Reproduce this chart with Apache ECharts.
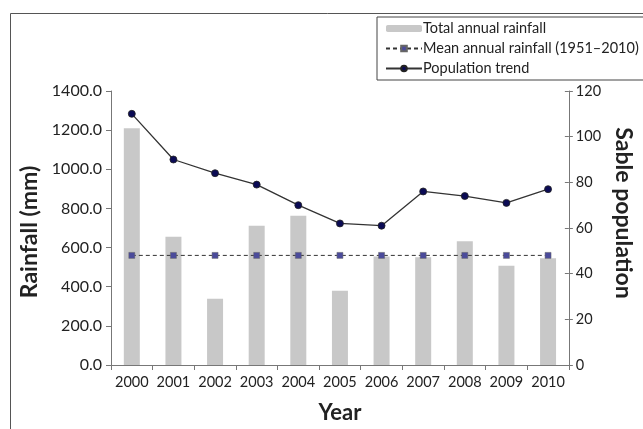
<!DOCTYPE html>
<html>
<head>
<meta charset="utf-8">
<script src="https://cdn.jsdelivr.net/npm/echarts@6/dist/echarts.min.js"></script>
<style>
  html, body { margin: 0; padding: 0; background: #fff; }
  #chart { width: 643px; height: 429px; }
</style>
</head>
<body>
<div id="chart"></div>
<script>
// Years on the category axis
const years = ['2000', '2001', '2002', '2003', '2004', '2005', '2006', '2007', '2008', '2009', '2010'];
// Total annual rainfall (mm)
const rainfall = [1210, 655, 338, 711, 762, 380, 555, 550, 632, 507, 545];
// Long-term mean annual rainfall, 1951–2010 (mm)
const meanRainfall = [560, 560, 560, 560, 560, 560, 560, 560, 560, 560, 560];
// Sable population counts
const population = [110, 90, 84, 79, 70, 62, 61, 76, 74, 71, 77];

const FONT = 'Lato, "Open Sans", sans-serif';
const chart = echarts.init(document.getElementById('chart'), null, { renderer: 'canvas' });

const axisLineStyle = { color: '#777', width: 1 };
const titleFont = { fontFamily: FONT, fontSize: 23, fontWeight: 'bold', color: '#222' };

chart.setOption({
  backgroundColor: '#fff',
  animation: false,
  textStyle: { fontFamily: FONT },
  graphic: [{
    type: 'rect',
    shape: { x: 10.5, y: 13.5, width: 700, height: 500 },
    style: { fill: 'none', stroke: '#555', lineWidth: 1 },
    silent: true
  }],
  legend: {
    orient: 'vertical',
    left: 377,
    top: 17,
    width: 300,
    padding: [4, 14, 4, 8],
    itemGap: 5,
    itemWidth: 36,
    itemHeight: 7,
    borderColor: '#444',
    borderWidth: 1,
    backgroundColor: '#fff',
    textStyle: { fontFamily: FONT, fontSize: 14.5, color: '#222', padding: [0, 0, 0, -4] },
    data: ['Total annual rainfall', 'Mean annual rainfall (1951–2010)', 'Population trend']
  },
  grid: { left: 111, right: 65, top: 91, bottom: 63, containLabel: false },
  xAxis: {
    type: 'category',
    data: years,
    name: 'Year',
    nameLocation: 'middle',
    nameGap: 37,
    nameTextStyle: { fontFamily: FONT, fontSize: 22, fontWeight: 'bold', color: '#222' },
    axisLine: { lineStyle: axisLineStyle },
    axisTick: { show: true, length: 5, lineStyle: axisLineStyle },
    axisLabel: { interval: 0, fontFamily: FONT, fontSize: 14.5, color: '#222', margin: 10 }
  },
  yAxis: [{
    type: 'value',
    min: 0, max: 1400, interval: 200,
    position: 'left',
    name: 'Rainfall (mm)',
    nameLocation: 'middle',
    nameGap: 67,
    nameTextStyle: Object.assign({ padding: [0, 8, 0, 0] }, titleFont),
    axisLine: { show: true, lineStyle: axisLineStyle },
    axisTick: { show: true, length: 5, lineStyle: axisLineStyle },
    axisLabel: { fontFamily: FONT, fontSize: 16, color: '#222', margin: 9, formatter: v => v.toFixed(1) },
    splitLine: { show: false }
  }, {
    type: 'value',
    min: 0, max: 120, interval: 20,
    position: 'right',
    name: 'Sable population',
    nameLocation: 'middle',
    nameRotate: -90,
    nameGap: 43,
    nameTextStyle: Object.assign({ padding: [0, 30, 0, 0] }, titleFont),
    axisLine: { show: true, lineStyle: axisLineStyle },
    axisTick: { show: true, length: 4, lineStyle: axisLineStyle },
    axisLabel: { fontFamily: FONT, fontSize: 14.5, color: '#222', margin: 7 },
    splitLine: { show: false }
  }, {
    // inner half of the cross ticks on the population axis
    type: 'value',
    min: 0, max: 120, interval: 20,
    position: 'right',
    axisLine: { show: false },
    axisTick: { show: true, inside: true, length: 4, lineStyle: axisLineStyle },
    axisLabel: { show: false },
    splitLine: { show: false }
  }],
  series: [{
    name: 'Total annual rainfall',
    type: 'bar',
    yAxisIndex: 0,
    data: rainfall,
    barWidth: 16,
    itemStyle: { color: '#c8c8c8' },
    z: 1
  }, {
    name: 'Mean annual rainfall (1951–2010)',
    type: 'line',
    yAxisIndex: 0,
    data: meanRainfall,
    symbol: 'rect',
    symbolSize: 6,
    lineStyle: { color: '#333', width: 1, type: [4, 3] },
    itemStyle: { color: '#4b4b9b', borderColor: '#666', borderWidth: 0.5 },
    z: 3
  }, {
    name: 'Population trend',
    type: 'line',
    yAxisIndex: 1,
    data: population,
    symbol: 'circle',
    symbolSize: 7,
    lineStyle: { color: '#333', width: 1.3 },
    itemStyle: { color: '#0b0b55', borderColor: '#222', borderWidth: 0.8 },
    z: 4
  }]
});
</script>
</body>
</html>
